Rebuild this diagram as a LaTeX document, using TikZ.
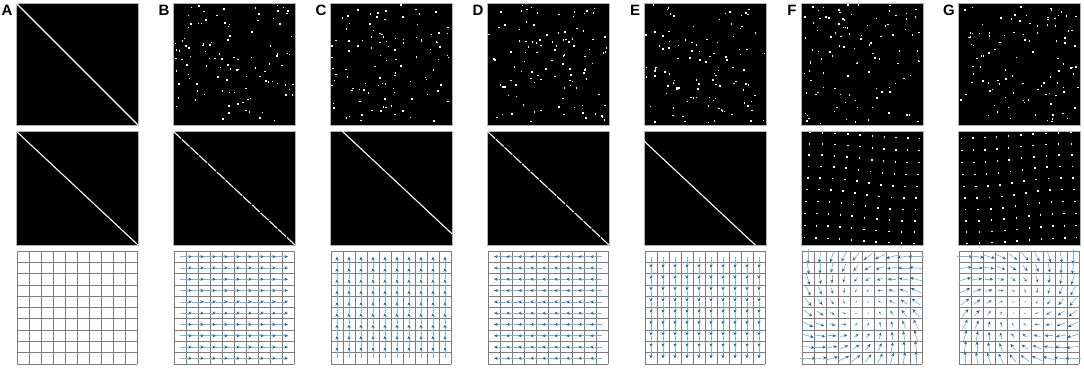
\documentclass[tikz,border=0pt]{standalone}
\usepackage{fontspec}
\setmainfont{Liberation Sans}
\usetikzlibrary{arrows.meta}
\definecolor{shaft}{RGB}{125,180,222}
\definecolor{headc}{RGB}{31,100,165}
\definecolor{gridc}{RGB}{125,125,125}
\tikzset{
 panel/.style={fill=black, draw=gray!60, line width=0.6pt},
 lbl/.style={font=\bfseries\fontsize{15}{15}\selectfont, inner sep=0pt},
 quiv/.style={draw=shaft, line width=0.7pt, -{Stealth[length=3.6pt,width=3.2pt,color=headc]}},
 gridline/.style={draw=gridc, line width=0.7pt},
 diag/.style={draw=white, line width=1.1pt},
 dashdiag/.style={draw=white, line width=1.1pt, dash pattern=on 10.8pt off 1.2pt},
}
\begin{document}
\begin{tikzpicture}[x=1pt,y=-1pt]
\useasboundingbox (0,0) rectangle (1084,368);
% panel labels
\foreach \L [count=\k from 0] in {A,B,C,D,E,F,G} {
  \node[lbl] (lab\L) at (7+157*\k, 10.5) {\L};
}
% ---------- top row ----------
\foreach \k in {0,...,6} {
  \pgfmathsetmacro\X{16+157*\k}
  \draw[panel] (\X,3) rectangle (\X+122,125);
}
\draw[diag] (16,3) -- (138,125);
\foreach \k in {1,...,6} {
  \pgfmathsetmacro\X{16+157*\k}
  \pgfmathtruncatemacro\sd{\k*13+5}
  \pgfmathsetseed{\sd}
  \foreach \n in {1,...,105} {
    \pgfmathsetmacro\rx{\X+1.5+119*rnd}
    \pgfmathsetmacro\ry{4.5+119*rnd}
    \fill[white] (\rx-0.75,\ry-0.75) rectangle ++(1.5,1.5);
  }
}
% ---------- middle row ----------
\foreach \k in {0,...,6} {
  \pgfmathsetmacro\X{16+157*\k}
  \draw[panel] (\X,131) rectangle (\X+122,245);
}
\draw[diag] (16,131) -- (138,245);
\draw[dashdiag] (173,131) -- (295,245);
\draw[diag] (342,131) -- (452,233.8);
\draw[dashdiag] (487,131) -- (609,245);
\draw[diag] (644,141) -- (755.3,245);
\foreach \k/\sg in {5/1,6/-1} {
  \pgfmathsetmacro\X{16+157*\k}
  \pgfmathsetmacro\cx{\X+61}
  \begin{scope}
    \clip (\X+1,132) rectangle (\X+121,244);
    \foreach \i in {-1,...,10} {
      \foreach \j in {-1,...,10} {
        \pgfmathsetmacro\ox{(\i-4.5)*12.2}
        \pgfmathsetmacro\oy{(\j-4.5)*11.7}
        \pgfmathsetmacro\th{\sg*7*exp(-(\ox*\ox+\oy*\oy)/3000)+\sg*2}
        \pgfmathsetmacro\px{\cx+\ox*cos(\th)-\oy*sin(\th)}
        \pgfmathsetmacro\py{188+\ox*sin(\th)+\oy*cos(\th)}
        \fill[white] (\px-0.8,\py-0.8) rectangle ++(1.6,1.6);
      }
    }
  \end{scope}
}
% ---------- bottom row: grids ----------
\foreach \k in {0,...,6} {
  \pgfmathsetmacro\X{16+157*\k}
  \foreach \i in {0,...,10} {
    \draw[gridline] (\X+1+12*\i,251) -- (\X+1+12*\i,364);
    \draw[gridline] (\X+1,251+11.3*\i) -- (\X+121,251+11.3*\i);
  }
}
% B: right
\foreach \j in {0,...,9} {
  \foreach \i in {0,...,8} {
    \draw[quiv] (173+1+12*\i+6,251+11.3*\j+5.65) -- (173+1+12*\i+18,251+11.3*\j+5.65);
  }
}
% C: up
\foreach \i in {0,...,9} {
  \foreach \j in {1,...,9} {
    \draw[quiv] (330+1+12*\i+6,251+11.3*\j+5.65) -- (330+1+12*\i+6,251+11.3*\j-5.65);
  }
}
% D: left
\foreach \j in {0,...,9} {
  \foreach \i in {0,...,8} {
    \draw[quiv] (487+1+12*\i+18,251+11.3*\j+5.65) -- (487+1+12*\i+6,251+11.3*\j+5.65);
  }
}
% E: down
\foreach \i in {0,...,9} {
  \foreach \j in {0,...,8} {
    \draw[quiv] (644+1+12*\i+6,251+11.3*\j+5.65) -- (644+1+12*\i+6,251+11.3*\j+16.95);
  }
}
% F, G: inward spiral fields
\foreach \k/\al in {5/135,6/-135} {
  \pgfmathsetmacro\X{16+157*\k}
  \foreach \i in {0,...,9} {
    \foreach \j in {0,...,9} {
      \pgfmathsetmacro\u{\i-4.5}
      \pgfmathsetmacro\v{4.5-\j}
      \pgfmathsetmacro\dx{0.2*((\u)*cos(\al)-(\v)*sin(\al))*12}
      \pgfmathsetmacro\dy{-0.2*((\u)*sin(\al)+(\v)*cos(\al))*11.3}
      \pgfmathsetmacro\ccx{\X+1+12*(\i+0.5)}
      \pgfmathsetmacro\ccy{251+11.3*(\j+0.5)}
      \pgfmathsetmacro\len{sqrt((\dx)*(\dx)+(\dy)*(\dy))}
      \pgfmathsetmacro\hl{min(3.6,0.5*\len)}
      \pgfmathsetmacro\hw{0.85*\hl}
      \draw[draw=shaft, line width=0.7pt, -{Stealth[length=\hl pt,width=\hw pt,color=headc]}]
        ({\ccx-0.5*(\dx)},{\ccy-0.5*(\dy)}) -- ({\ccx+0.5*(\dx)},{\ccy+0.5*(\dy)});
    }
  }
}
\end{tikzpicture}
\end{document}
